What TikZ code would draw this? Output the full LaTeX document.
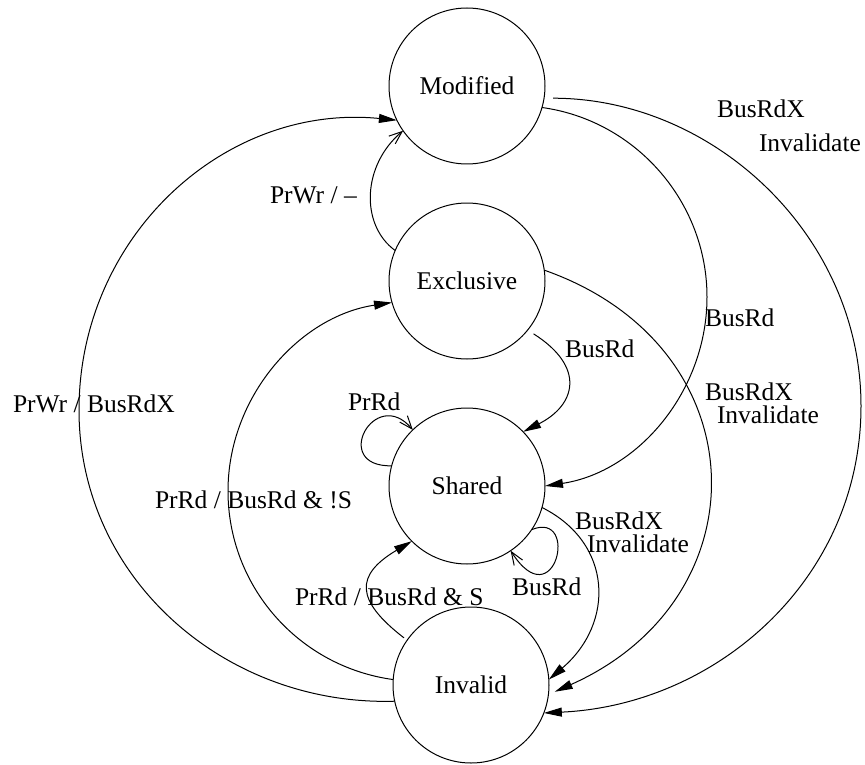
\documentclass[tikz,border=0pt]{standalone}
\usepackage{fontspec}
\setmainfont{Liberation Serif}
\usetikzlibrary{arrows.meta}
\tikzset{
  every node/.style = {
    inner sep = 0pt,
    outer sep = 0pt
  }
}

\begin{document}
\begin{tikzpicture}[
    x = 1pt,
    y = -1pt,
    line width = 1pt,
    state/.style = {
      draw,
      circle,
      minimum size = 156pt,
      font = \fontsize{25.5}{28}\selectfont,
    },
    lbl/.style = {
      anchor = base west,
      font = \fontsize{25.5}{28}\selectfont,
    },
    trans/.style = {
      -{Triangle[length=18pt,width=9pt]},
    },
    snoop/.style = {
      -{Straight Barb[length=13pt,width=10pt]},
    },
    ]
  \useasboundingbox (0,0) rectangle (865,765);

  % states
  \node [state] (mod) at (467,86) {Modified};
  \node [state] (exc) at (467,281) {Exclusive};
  \node [state] (sha) at (467,486) {Shared};
  \node [state] (inv) at (471,685) {Invalid};

  % transitions
  \draw [snoop] (exc.157) .. controls (360,225) and (362,165) .. (mod.215);
  \draw [trans] (mod.-16) .. controls +(94,13) and +(0,-95) .. (707,297)
    .. controls +(0,94) and +(93,-14) .. (sha.east);
  \draw [trans, shorten <=9pt] (mod.-9) .. controls +(170,0) and +(0,-170) .. (861,406)
    .. controls +(0,173) and +(173,-8) .. (inv.-21);
  \draw [trans] (exc.8) .. controls (760,346) and (765,598) .. ([xshift=6pt]inv.-5);
  \draw [trans, shorten <=7pt] (exc.-39) .. controls (586,367) and (576,405) .. (sha.44);
  \draw [snoop] (sha.165) .. controls (330,467) and (375,385) .. (sha.134);
  \draw [snoop] (sha.-34) .. controls (580,510) and (555,620) .. (sha.-56);
  \draw [trans] (sha.-16) .. controls (613,543) and (615,623) .. (inv.4);
  \draw [trans, shorten <=4pt] (inv.145) .. controls (355,600) and (355,575) .. (sha.225);
  \draw [trans] (inv.176) .. controls +(-95,-13) and +(0,95) .. (228,491)
    .. controls +(0,-94) and +(-93,14) .. (exc.196);
  \draw [trans] (inv.192) .. controls +(-169,5) and +(0,169) .. (79,410)
    .. controls +(0,-173) and +(-173,-17) .. (mod.206);

  % labels
  \node [lbl] (l-exc-mod) at (270,203) {PrWr / \textendash};
  \node [lbl] (l-mod-inv-a) at (717,118) {BusRdX};
  \node [lbl] (l-mod-inv-b) at (759,152) {Invalidate};
  \node [lbl] (l-mod-sha) at (705,326) {BusRd};
  \node [lbl] (l-exc-inv-a) at (705,400) {BusRdX};
  \node [lbl] (l-exc-inv-b) at (717,423) {Invalidate};
  \node [lbl] (l-exc-sha) at (565,357) {BusRd};
  \node [lbl] (l-sha-pr) at (348,410) {PrRd};
  \node [lbl] (l-sha-bus) at (512,595) {BusRd};
  \node [lbl] (l-sha-inv-a) at (575,529) {BusRdX};
  \node [lbl] (l-sha-inv-b) at (587,552) {Invalidate};
  \node [lbl] (l-inv-sha) at (295,605) {PrRd / BusRd \& S};
  \node [lbl] (l-inv-exc) at (155,508) {PrRd / BusRd \& !S};
  \node [lbl] (l-inv-mod) at (13,412) {PrWr / BusRdX};
\end{tikzpicture}
\end{document}
